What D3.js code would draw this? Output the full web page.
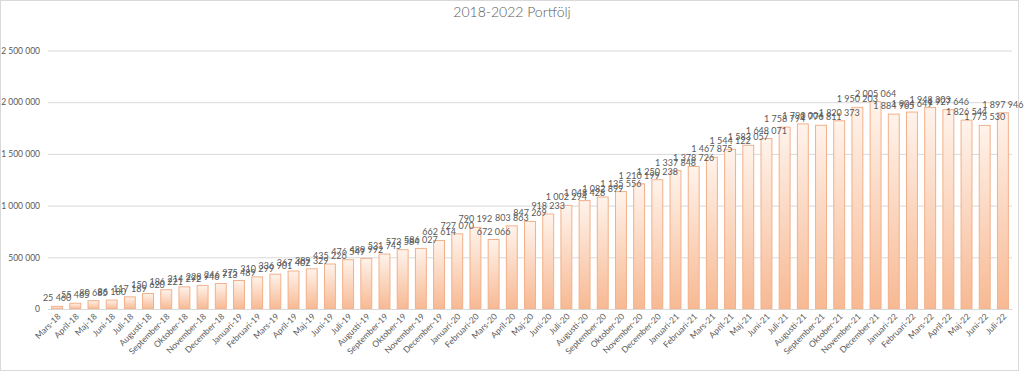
<!DOCTYPE html>
<html>
<head>
<meta charset="utf-8">
<script src="https://cdn.jsdelivr.net/npm/d3@7"></script>
<style>
  body { margin: 0; background: #fff; }
  text { font-family: Lato, "Open Sans", sans-serif; fill: #595959; }
</style>
</head>
<body>
<svg id="chart" width="1024" height="373"></svg>
<script>
// månader och portföljvärde
const months = [
  "Mars-18", "April-18", "Maj-18", "Juni-18", "Juli-18", "Augusti-18", "September-18", "Oktober-18", "November-18", "December-18",
  "Januari-19", "Februari-19", "Mars-19", "April-19", "Maj-19", "Juni-19", "Juli-19", "Augusti-19", "September-19", "Oktober-19", "November-19", "December-19",
  "Januari-20", "Februari-20", "Mars-20", "April-20", "Maj-20", "Juni-20", "Juli-20", "Augusti-20", "September-20", "Oktober-20", "November-20", "December-20",
  "Januari-21", "Februari-21", "Mars-21", "April-21", "Maj-21", "Juni-21", "Juli-21", "Augusti-21", "September-21", "Oktober-21", "November-21", "December-21",
  "Januari-22", "Februari-22", "Mars-22", "April-22", "Maj-22", "Juni-22", "Juli-22"
];
const values = [
  25460, 55465, 80685, 86180, 117189, 150620, 186221, 214292, 228946, 246713,
  275489, 310299, 336901, 367402, 389329, 435226, 476549, 489992, 531745, 573584, 586027, 662614,
  727070, 790192, 672066, 803863, 847269, 918233, 1002294, 1048428, 1082899, 1135556, 1210199, 1250238,
  1337848, 1378726, 1467875, 1544122, 1583057, 1648071, 1758794, 1790004, 1776811, 1820373, 1950203, 2005064,
  1884965, 1904649, 1948303, 1927646, 1826544, 1775530, 1897946
];
const yTicks = [0, 500000, 1000000, 1500000, 2000000, 2500000];
const title = "2018-2022 Portfölj";

const svg = d3.select("#chart");
const fmt = d3.formatLocale({ decimal: ",", thousands: " ", grouping: [3], currency: ["", " kr"] }).format(",d");

const x = d3.scaleBand().domain(months).range([48, 1012]).paddingInner(0.4).paddingOuter(0.2);
const y = d3.scaleLinear().domain([0, 2500000]).range([309, 50.5]);

// ram
svg.append("rect")
  .attr("x", 0.5).attr("y", 0.5).attr("width", 1018).attr("height", 370)
  .attr("fill", "none").attr("stroke", "#d9d9d9");

svg.append("text")
  .attr("x", 512).attr("y", 17)
  .attr("text-anchor", "middle")
  .style("font-size", "14px")
  .style("font-weight", 300)
  .text(title);

// stödlinjer
const yAxis = svg.append("g")
  .attr("transform", "translate(48,0)")
  .call(d3.axisLeft(y).tickValues(yTicks).tickFormat(fmt).tickSize(-964).tickPadding(8));
yAxis.select(".domain").remove();
yAxis.selectAll(".tick line").attr("stroke", "#d9d9d9");
yAxis.selectAll(".tick text").style("font-size", "8.5px").attr("fill", "#595959");

const defs = svg.append("defs");
const grad = defs.append("linearGradient")
  .attr("id", "barGrad").attr("x1", 0).attr("y1", 0).attr("x2", 0).attr("y2", 1);
grad.append("stop").attr("offset", "0%").attr("stop-color", "#fff3eb");
grad.append("stop").attr("offset", "100%").attr("stop-color", "#f7b993");

svg.append("g").selectAll("rect")
  .data(values)
  .join("rect")
  .attr("x", (d, i) => x(months[i]))
  .attr("y", d => y(d))
  .attr("width", x.bandwidth())
  .attr("height", d => y(0) - y(d))
  .attr("fill", "url(#barGrad)")
  .attr("stroke", "#f2b08a")
  .attr("stroke-width", 1);

// x-axel
const xAxis = svg.append("g")
  .attr("transform", `translate(0,${y(0)})`)
  .call(d3.axisBottom(x).tickSize(0).tickPadding(6));
xAxis.select(".domain").attr("stroke", "#d9d9d9");
xAxis.selectAll(".tick text")
  .style("font-size", "8.5px")
  .attr("fill", "#595959")
  .attr("text-anchor", "end")
  .attr("dy", "0.35em")
  .attr("transform", "translate(2,6) rotate(-45)")
  .attr("y", 0).attr("x", 0);

// datalabels
svg.append("g").selectAll("text")
  .data(values)
  .join("text")
  .attr("x", (d, i) => x(months[i]) + x.bandwidth() / 2)
  .attr("y", d => y(d) - 5)
  .attr("text-anchor", "middle")
  .style("font-size", "9px")
  .text(d => fmt(d));
</script>
</body>
</html>
